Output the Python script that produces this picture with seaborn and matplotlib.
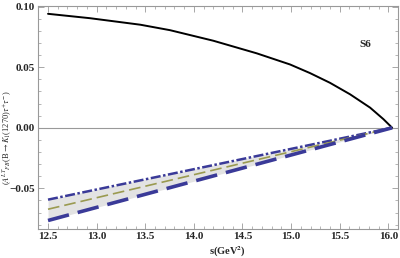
import matplotlib
matplotlib.use("Agg")
import matplotlib.pyplot as plt
import seaborn as sns
import pandas as pd
from matplotlib.ticker import MultipleLocator, FormatStrFormatter, FuncFormatter

# black curve (SM)
s_sm = [12.50, 12.93, 13.45, 13.755, 14.20, 14.647, 14.99, 15.195,
        15.40, 15.607, 15.813, 15.95, 16.04]
a_sm = [0.0940, 0.0904, 0.0850, 0.0805, 0.0718, 0.0614, 0.0522, 0.0451,
        0.0371, 0.0276, 0.0166, 0.0071, 0.0]

# S6 scenario lines (straight to the endpoint)
s_np = [12.5, 16.04]
a_up = [-0.0593, 0.0]
a_mid = [-0.0672, 0.0]
a_low = [-0.0765, 0.0]

sns.set_style("ticks")
plt.rcParams["font.family"] = ["Liberation Serif", "DejaVu Serif"]
plt.rcParams["mathtext.fontset"] = "stix"

fig = plt.figure(figsize=(4, 2.58), dpi=100)
ax = fig.add_axes([0.095, 0.112, 0.90, 0.865])

df_sm = pd.DataFrame({"s": s_sm, "A": a_sm})
df_np = pd.DataFrame({"s": s_np, "up": a_up, "mid": a_mid, "low": a_low})

ax.axhline(0, color="#999999", lw=0.8, zorder=1)
ax.fill_between(df_np["s"], df_np["low"], df_np["up"], color="#dcdcdc", alpha=0.8, lw=0, zorder=1)

sns.lineplot(data=df_sm, x="s", y="A", color="black", lw=1.4, ax=ax)
sns.lineplot(data=df_np, x="s", y="up", color="#3a3a98", lw=1.8, ax=ax,
             linestyle=(0, (4, 1, 1, 1)))
sns.lineplot(data=df_np, x="s", y="mid", color="#9a9a50", lw=1.2, ax=ax,
             linestyle=(0, (7, 3)))
sns.lineplot(data=df_np, x="s", y="low", color="#3a3a98", lw=2.6, ax=ax,
             linestyle=(0, (6, 2.5)))

ax.set_xlim(12.397, 16.10)
ax.set_ylim(-0.0836, 0.1005)
ax.xaxis.set_major_locator(MultipleLocator(0.5))
ax.xaxis.set_minor_locator(MultipleLocator(0.1))
ax.yaxis.set_major_locator(MultipleLocator(0.05))
ax.yaxis.set_minor_locator(MultipleLocator(0.01))
ax.xaxis.set_major_formatter(FormatStrFormatter("%.1f"))
ax.yaxis.set_major_formatter(FuncFormatter(
    lambda v, p: ("%.2f" % v).replace("-", "\u2212")))
ax.tick_params(which="both", direction="in", top=True, right=True,
               color="#999999", labelsize=8, pad=2)
ax.tick_params(which="major", length=4, width=0.6)
ax.tick_params(which="minor", length=2, width=0.5)
for lab in ax.get_xticklabels() + ax.get_yticklabels():
    lab.set_fontweight("bold")
for sp in ax.spines.values():
    sp.set_color("#999999")
    sp.set_linewidth(0.8)

ax.set_xlabel(r"s(GeV$^{\mathbf{2}}$)", fontsize=7.5, fontweight="bold")
ax.xaxis.set_label_coords(0.525, -0.068)
ax.set_ylabel(r"($A^{LT}{}_{FB}$(B$\rightarrow K_1$(1270)$\tau^{+}\tau^{-}$)",
              fontsize=6)
ax.yaxis.set_label_coords(-0.068, 0.41)
ax.text(15.76, 0.069, "S6", fontsize=8, fontweight="bold", ha="center", va="center")

fig.savefig("out.png", dpi=100)
